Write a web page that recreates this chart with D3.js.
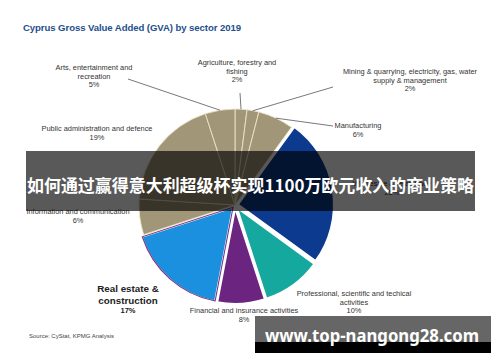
<!DOCTYPE html>
<html>
<head>
<meta charset="utf-8">
<script src="https://cdn.jsdelivr.net/npm/d3@7"></script>
<style>
  body { margin: 0; background: #fff; }
  svg { display: block; }
</style>
</head>
<body>
<svg id="chart" width="500" height="362"></svg>
<script>
var sectors = ["Agriculture, forestry and fishing", "Mining & quarrying, electricity, gas, water supply & management",
    "Manufacturing", "Wholesale & retail trade", "Professional, scientific and techical activities",
    "Financial and insurance activities", "Real estate & construction", "Information and communication",
    "Public administration and defence", "Arts, entertainment and recreation"];
var shares = [2, 2, 6, 25, 10, 8, 17, 6, 19, 5];
var sectorColors = ["#a19677", "#a19677", "#a19677", "#0b3a8e", "#15a89f", "#6c2481", "#1b90de", "#a19677", "#a19677", "#a19677"];
var explode = [0, 0, 0, 1, 1, 1, 1, 0, 0, 0];

// label text lines (the share goes under them)
var labelLines = [
    ["Agriculture, forestry and", "fishing"],
    ["Mining & quarrying, electricity, gas, water", "supply & management"],
    ["Manufacturing"],
    ["Wholesale & retail trade"],
    ["Professional, scientific and techical", "activities"],
    ["Financial and insurance activities"],
    ["Real estate &", "construction"],
    ["Information and communication"],
    ["Public administration and defence"],
    ["Arts, entertainment and", "recreation"]
];

var svg = d3.select("#chart");
var cx = 235, cy = 205, r = 96;

// where each label sits, and where its leader line starts (if any)
var labelPos = [
    {x: 237, y: 65, lead: [240, 93]},
    {x: 410, y: 74, lead: [333, 87]},
    {x: 358, y: 128, lead: [333, 126]},
    {x: 392, y: 186},
    {x: 354, y: 296},
    {x: 244, y: 313},
    {x: 128, y: 292, big: true},
    {x: 78, y: 214},
    {x: 97, y: 131},
    {x: 94, y: 70, lead: [128, 79]}
];

svg.append("text")
    .attr("x", 23).attr("y", 31)
    .attr("font-family", "Liberation Sans, Arial, sans-serif")
    .attr("font-size", 9.6).attr("font-weight", "bold")
    .attr("fill", "#1f4e8d")
    .attr("textLength", 218)
    .text("Cyprus Gross Value Added (GVA) by sector 2019");

var pie = d3.pie().sort(null).value(function(d) { return d; });
var arcs = pie(shares);
var arc = d3.arc().innerRadius(0).outerRadius(r);
var outer = d3.arc().innerRadius(r).outerRadius(r);

function shift(d, i) {
    var a = (d.startAngle + d.endAngle) / 2;
    var off = explode[i] * 3;
    return "translate(" + (Math.sin(a) * off) + "," + (-Math.cos(a) * off) + ")";
}

var g = svg.append("g").attr("transform", "translate(" + cx + "," + cy + ")");

g.selectAll("path.slice")
    .data(arcs)
    .enter().append("path")
    .attr("class", "slice")
    .attr("d", arc)
    .attr("transform", shift)
    .attr("fill", function(d, i) { return sectorColors[i]; })
    .attr("stroke", function(d, i) { return explode[i] ? "#fff" : "#ece3c6"; })
    .attr("stroke-width", function(d, i) { return explode[i] ? 2 : 0.9; });

// purple rim on real estate
g.append("path")
    .attr("d", d3.arc().innerRadius(0).outerRadius(r - 0.6)(arcs[6]))
    .attr("transform", shift(arcs[6], 6))
    .attr("fill", "none").attr("stroke", "#7b3a86").attr("stroke-width", 1.1);

// leader lines
labelPos.forEach(function(p, i) {
    if (!p.lead) return;
    var c = outer.centroid(arcs[i]);
    svg.append("line")
        .attr("x1", p.lead[0]).attr("y1", p.lead[1])
        .attr("x2", cx + c[0]).attr("y2", cy + c[1])
        .attr("stroke", "#555").attr("stroke-width", 0.8);
});

// labels
labelPos.forEach(function(p, i) {
    var lines = labelLines[i].concat([shares[i] + "%"]);
    var t = svg.append("text")
        .attr("text-anchor", "middle")
        .attr("font-family", "Liberation Sans, Arial, sans-serif")
        .attr("fill", p.big ? "#222" : "#333");
    lines.forEach(function(s, k) {
        var last = k == lines.length - 1;
        t.append("tspan")
            .attr("x", p.x)
            .attr("y", p.y + (p.big ? k * 11.5 - (last ? 2 : 0) : k * 8.5))
            .attr("font-size", p.big ? (last ? 7.5 : 9.8) : 7.4)
            .attr("font-weight", p.big ? "bold" : "normal")
            .text(s);
    });
});

svg.append("text")
    .attr("x", 29).attr("y", 338)
    .attr("font-family", "Liberation Sans, Arial, sans-serif")
    .attr("font-size", 6).attr("fill", "#444")
    .text("Source: CyStat, KPMG Analysis");

// banner overlay
svg.append("rect")
    .attr("x", 26).attr("y", 151).attr("width", 449).attr("height", 60)
    .attr("fill", "#000").attr("fill-opacity", 0.65);
svg.append("text")
    .attr("x", 27).attr("y", 192)
    .attr("font-family", "Noto Sans CJK SC, sans-serif")
    .attr("font-size", 17.5).attr("font-weight", "bold")
    .attr("fill", "#fff")
    .attr("textLength", 447).attr("lengthAdjust", "spacingAndGlyphs")
    .text("如何通过赢得意大利超级杯实现1100万欧元收入的商业策略");

// watermark
svg.append("rect")
    .attr("x", 255).attr("y", 316).attr("width", 236).attr("height", 26)
    .attr("fill", "#666");
svg.append("rect")
    .attr("x", 255).attr("y", 342).attr("width", 236).attr("height", 11)
    .attr("fill", "#000");
svg.append("text")
    .attr("x", 265).attr("y", 342)
    .attr("font-family", "Noto Sans, Open Sans, sans-serif")
    .attr("font-size", 17).attr("font-weight", "bold")
    .attr("fill", "#fff")
    .attr("textLength", 214).attr("lengthAdjust", "spacingAndGlyphs")
    .text("www.top-nangong28.com");
</script>
</body>
</html>
